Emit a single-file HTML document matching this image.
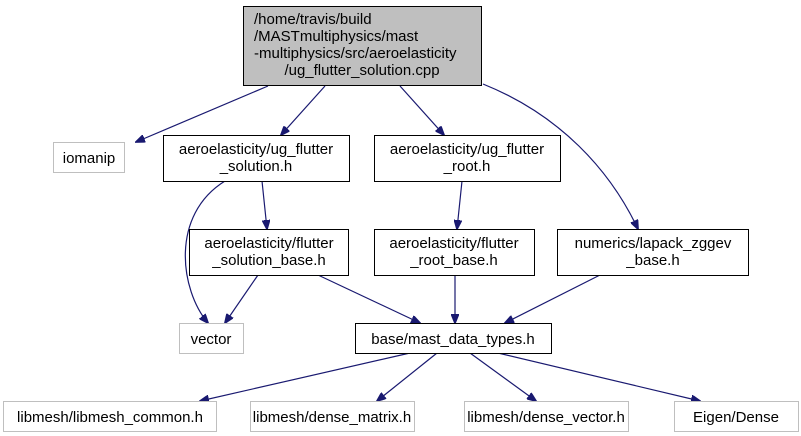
<!DOCTYPE html>
<html><head><meta charset="utf-8"><style>
html,body{margin:0;padding:0;background:#fff;}
svg{display:block;}
text{font-family:"Liberation Sans",Arial,sans-serif;font-size:15px;}
</style></head><body>
<svg width="801" height="436" viewBox="0 0 801 436" xmlns="http://www.w3.org/2000/svg">
<defs><marker id="a" markerWidth="10" markerHeight="8" refX="9" refY="4" orient="auto" markerUnits="userSpaceOnUse"><path d="M0,0 L10,4 L0,8 z" fill="#191970" stroke="#191970"/></marker></defs>
<g fill="none" stroke="#191970" stroke-width="1.2" marker-end="url(#a)">
<path d="M268,86 L136,142"/>
<path d="M325,86 L281,135"/>
<path d="M400,86 L444,135"/>
<path d="M483,84 C560,115 610,170 638,229"/>
<path d="M225,181 C170,215 180,290 208,323"/>
<path d="M262,181 L267,229"/>
<path d="M462,181 L457,229"/>
<path d="M258,275 L225,323"/>
<path d="M318,275 L420,323"/>
<path d="M455,275 L455,323"/>
<path d="M600,275 L505,323"/>
<path d="M410,353 L200,401"/>
<path d="M437,353 L377,401"/>
<path d="M470,353 L536,401"/>
<path d="M498,353 L700,401"/>
</g>
<g stroke-width="1">
<rect x="243.5" y="6.5" width="238" height="79" fill="#bfbfbf" stroke="#000"/>
<rect x="163.5" y="135.5" width="186" height="46" fill="#fff" stroke="#000"/>
<rect x="374.5" y="135.5" width="186" height="46" fill="#fff" stroke="#000"/>
<rect x="53.5" y="142.5" width="71" height="30" fill="#fff" stroke="#bfbfbf"/>
<rect x="189.5" y="229.5" width="159" height="46" fill="#fff" stroke="#000"/>
<rect x="374.5" y="229.5" width="160" height="46" fill="#fff" stroke="#000"/>
<rect x="557.5" y="229.5" width="191" height="46" fill="#fff" stroke="#000"/>
<rect x="179.5" y="323.5" width="64" height="30" fill="#fff" stroke="#bfbfbf"/>
<rect x="355.5" y="323.5" width="196" height="30" fill="#fff" stroke="#000"/>
<rect x="3.5" y="401.5" width="213" height="30" fill="#fff" stroke="#bfbfbf"/>
<rect x="250.5" y="401.5" width="164" height="30" fill="#fff" stroke="#bfbfbf"/>
<rect x="464.5" y="401.5" width="164" height="30" fill="#fff" stroke="#bfbfbf"/>
<rect x="674.5" y="401.5" width="124" height="30" fill="#fff" stroke="#bfbfbf"/>
</g>
<g fill="#000">
<text x="254" y="24">/home/travis/build</text>
<text x="254" y="41">/MASTmultiphysics/mast</text>
<text x="254" y="58">-multiphysics/src/aeroelasticity</text>
<text x="362" y="75" text-anchor="middle">/ug_flutter_solution.cpp</text>
<g text-anchor="middle">
<text x="256" y="154">aeroelasticity/ug_flutter</text>
<text x="256" y="171">_solution.h</text>
<text x="467" y="154">aeroelasticity/ug_flutter</text>
<text x="467" y="171">_root.h</text>
<text x="269" y="248">aeroelasticity/flutter</text>
<text x="269" y="265">_solution_base.h</text>
<text x="454" y="248">aeroelasticity/flutter</text>
<text x="454" y="265">_root_base.h</text>
<text x="653" y="248">numerics/lapack_zggev</text>
<text x="653" y="265">_base.h</text>
<text x="453" y="344">base/mast_data_types.h</text>
<text x="89" y="163">iomanip</text>
<text x="211" y="344">vector</text>
<text x="110" y="422">libmesh/libmesh_common.h</text>
<text x="332" y="422">libmesh/dense_matrix.h</text>
<text x="546" y="422">libmesh/dense_vector.h</text>
<text x="736" y="422">Eigen/Dense</text>
</g>
</g>
</svg>
</body></html>
